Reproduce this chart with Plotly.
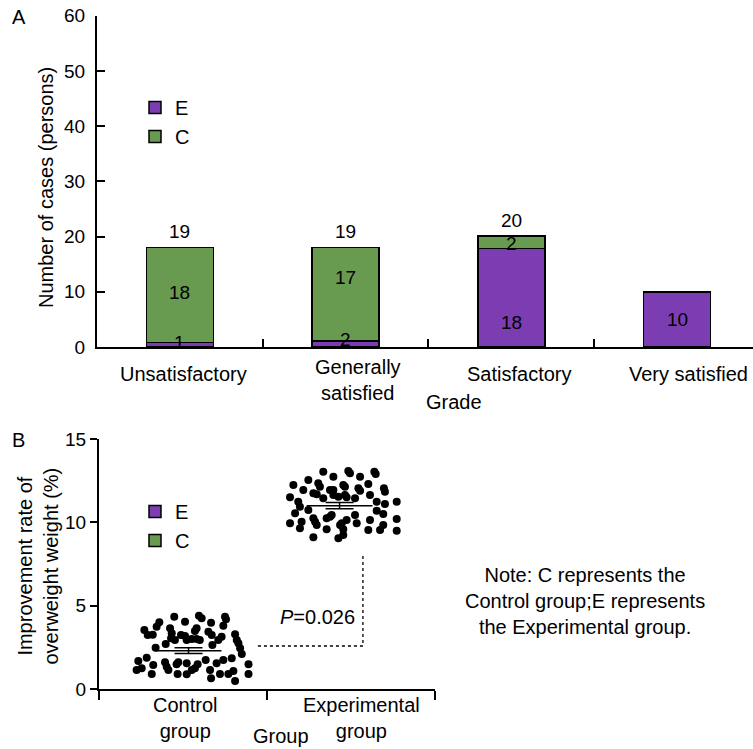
import plotly.graph_objects as go

# ---------------- Data: panel A ----------------
grades = ["Unsatisfactory", "Generally satisfied", "Satisfactory", "Very satisfied"]
grade_tick_labels = ["Unsatisfactory", "Generally<br>satisfied", "Satisfactory", "Very satisfied"]
e_bar = [0.8, 1.1, 17.8, 10.0]     # drawn height of E segment
c_bar = [17.2, 16.9, 2.3, 0.0]     # drawn height of C segment
e_labels = ["1", "2", "18", "10"]
c_labels = ["18", "17", "2", ""]
total_labels = ["19", "19", "20", ""]

# ---------------- Data: panel B ----------------
groups = ["Control<br>group", "Experimental<br>group"]
control_jitter = [-0.052, 0.012, 0.095, 0.111, 0.25, 0.256,
                  -0.141, -0.157, -0.077, 0.167, 0.081, 0.071,
                  -0.23, -0.21, -0.18, -0.067, -0.012, 0.012, 0.151, 0.171, 0.24, 0.23, 0.31,
                  -0.071, -0.048, 0.022, 0.052, 0.081, 0.10, 0.21, 0.32, 0.33,
                  -0.163, -0.103, 0.175, 0.34, 0.35,
                  -0.266, -0.216, -0.177, -0.107, -0.097, -0.028, -0.038, 0.022, 0.087, 0.135, 0.20, 0.24, 0.29,
                  -0.276, -0.246, -0.186, -0.087, -0.032, 0.022, 0.052, 0.071, 0.161, 0.22, 0.27, 0.30, 0.39, 0.39,
                  0.167, 0.31]
control_values = [4.34, 4.04, 4.40, 4.24, 4.34, 4.18,
                  4.00, 3.74, 3.64, 3.98, 3.64, 3.48,
                  3.54, 3.24, 3.26, 3.34, 3.24, 3.18, 3.44, 3.24, 3.80, 3.14, 3.28,
                  3.04, 2.94, 2.94, 3.00, 3.00, 2.94, 2.94, 2.94, 2.74,
                  2.48, 2.70, 2.64, 2.44, 2.10,
                  1.68, 1.88, 1.44, 1.60, 1.34, 1.60, 1.48, 1.54, 1.48, 1.74, 1.54, 1.74, 1.84,
                  1.14, 1.24, 0.90, 1.14, 0.90, 0.88, 1.14, 1.24, 1.14, 0.90, 0.90, 1.08, 1.48, 0.90,
                  0.64, 0.48]
exp_jitter = [-0.165, -0.105, -0.016, -0.006, 0.054, 0.139, 0.147,
              -0.343, -0.254, -0.195, -0.185, -0.125, -0.105, -0.046, -0.036, 0.044, 0.054, 0.103, 0.196, 0.202,
              -0.284, -0.224, -0.204, -0.165, -0.105, -0.075, -0.036, -0.026, 0.024, 0.113, -0.363,
              -0.314, -0.304, -0.254, -0.333, 0.153, 0.202, 0.272, 0.153, 0.192,
              -0.363, -0.294, -0.224, -0.214, -0.145, -0.115, -0.125, -0.055, -0.065, -0.026, 0.034, 0.024, 0.113, 0.192, 0.272,
              -0.304, -0.204, -0.145, -0.046, 0.103, 0.173, 0.272,
              -0.224, -0.075, -0.046]
exp_values = [13.04, 12.74, 13.08, 12.94, 12.74, 13.04, 12.90,
              12.24, 12.54, 12.34, 12.14, 11.94, 11.94, 12.24, 12.14, 12.04, 11.90, 12.30, 12.04, 11.84,
              11.94, 11.74, 11.68, 11.44, 11.64, 11.54, 11.64, 11.50, 11.44, 11.64, 11.50,
              11.24, 10.94, 10.74, 10.54, 11.24, 11.10, 11.24, 10.70, 10.50,
              9.94, 10.04, 10.24, 10.04, 10.24, 10.44, 10.34, 9.94, 9.84, 10.14, 9.94, 10.44, 10.14, 9.84, 10.20,
              9.64, 9.84, 9.58, 9.58, 9.54, 9.54, 9.50,
              9.10, 9.04, 9.24]
group_means = [2.30, 11.00]
group_sems = [0.17, 0.19]
p_text = "<i>P</i>=0.026"
note_text = "Note: C represents the<br>Control group;E represents<br>the Experimental group."

# ---------------- Styling ----------------
W, H = 753, 749
FONT = "Liberation Sans, Arial, sans-serif"
PURPLE = "#7c3db3"
GREEN = "#689a50"


def PX(x):
    return x / W


def PY(y):
    return 1 - y / H


fig = go.Figure()

# Panel A bars
fig.add_trace(go.Bar(x=grades, y=e_bar, name="E", marker=dict(color=PURPLE, line=dict(color="black", width=1.5)),
                     xaxis="x", yaxis="y", legend="legend"))
fig.add_trace(go.Bar(x=grades, y=c_bar, name="C", marker=dict(color=GREEN, line=dict(color="black", width=1.5)),
                     xaxis="x", yaxis="y", legend="legend"))

# Panel B legend entries
fig.add_trace(go.Bar(x=[None], y=[None], name="E", marker=dict(color=PURPLE, line=dict(color="black", width=1.5)),
                     xaxis="x2", yaxis="y2", legend="legend2"))
fig.add_trace(go.Bar(x=[None], y=[None], name="C", marker=dict(color=GREEN, line=dict(color="black", width=1.5)),
                     xaxis="x2", yaxis="y2", legend="legend2"))

# Panel B scatter points
fig.add_trace(go.Scatter(x=[0 + j for j in control_jitter], y=control_values, mode="markers",
                         marker=dict(size=8, color="black"), xaxis="x2", yaxis="y2", showlegend=False))
fig.add_trace(go.Scatter(x=[1 + j for j in exp_jitter], y=exp_values, mode="markers",
                         marker=dict(size=8, color="black"), xaxis="x2", yaxis="y2", showlegend=False))

# Mean lines and SEM bars
center_shift = [0.033, -0.068]
half_mean = 0.196
for i, (m, s) in enumerate(zip(group_means, group_sems)):
    c = i + center_shift[i]
    fig.add_trace(go.Scatter(x=[c - half_mean, c + half_mean], y=[m, m], mode="lines",
                             line=dict(color="black", width=1.5), xaxis="x2", yaxis="y2", showlegend=False))
    fig.add_trace(go.Scatter(x=[c], y=[m], mode="markers", marker=dict(size=1, color="rgba(0,0,0,0)"),
                             error_y=dict(type="data", array=[s], color="black", thickness=1.5, width=14),
                             xaxis="x2", yaxis="y2", showlegend=False))

# Significance bracket (dotted)
br_low, br_high = 2.58, 8.16
br_left, br_right = 0.446, 1.071
fig.add_trace(go.Scatter(x=[br_left, br_right, br_right], y=[br_low, br_low, br_high], mode="lines",
                         line=dict(color="black", width=1.3, dash="dot"), xaxis="x2", yaxis="y2", showlegend=False))

ann = []
f20 = dict(family=FONT, size=20, color="black")
f19 = dict(family=FONT, size=19, color="black")


def paper_text(text, xp, yp, **kw):
    d = dict(text=text, x=PX(xp), y=PY(yp), xref="paper", yref="paper", showarrow=False, font=f20,
             xanchor="center", yanchor="middle")
    d.update(kw)
    return d


ann.append(paper_text("A", 19, 17))
ann.append(paper_text("B", 18, 440))
ann.append(paper_text("Number of cases (persons)", 46, 188, textangle=-90))
ann.append(paper_text("Improvement rate of<br>overweight weight (%)", 37.5, 566, textangle=-90))

# Panel A category labels
cat_shift = [4, 12, 8, 11]
for i, lab in enumerate(grade_tick_labels):
    ypix = 380 if "<br>" in lab else 374
    ann.append(dict(text=lab, x=grades[i], xref="x", y=PY(ypix), yref="paper", xshift=cat_shift[i],
                    showarrow=False, font=f20, xanchor="center", yanchor="middle"))
ann.append(paper_text("Grade", 454, 402))

# Panel A value labels
e_label_y = [0.9, 1.3, 4.5, 4.9]
c_label_y = [9.8, 12.5, 18.7, 0]
for i in range(len(grades)):
    ann.append(dict(text=e_labels[i], x=grades[i], y=e_label_y[i], xref="x", yref="y", showarrow=False,
                    font=f19, xanchor="center", yanchor="middle"))
    if c_labels[i]:
        ann.append(dict(text=c_labels[i], x=grades[i], y=c_label_y[i], xref="x", yref="y", showarrow=False,
                        font=f19, xanchor="center", yanchor="middle"))
    if total_labels[i]:
        ann.append(dict(text=total_labels[i], x=grades[i], y=e_bar[i] + c_bar[i], xref="x", yref="y",
                        yshift=16, showarrow=False, font=f19, xanchor="center", yanchor="middle"))

# Panel B category labels
grp_shift = [2, 10]
for i, lab in enumerate(groups):
    ann.append(dict(text=lab, x=i, xref="x2", y=PY(718), yref="paper", xshift=grp_shift[i], showarrow=False,
                    font=f20, xanchor="center", yanchor="middle"))
ann.append(paper_text("Group", 281, 736))
ann.append(paper_text(p_text, 357, 617, xanchor="right"))
ann.append(paper_text(note_text, 585, 601, align="center"))

axis_common = dict(showline=True, linecolor="black", linewidth=2, showgrid=False, zeroline=False,
                   tickcolor="black", tickwidth=1.5, tickfont=f19, automargin=False)

fig.update_layout(
    width=W, height=H, margin=dict(l=0, r=0, t=0, b=0, autoexpand=False),
    paper_bgcolor="white", plot_bgcolor="white",
    barmode="stack", bargap=0.596,
    font=f20,
    xaxis=dict(domain=[97 / W, 1], anchor="y", type="category", categoryorder="array", categoryarray=grades,
               range=[-0.5, 3.458], tickson="boundaries", ticks="inside", ticklen=8, showticklabels=False,
               **axis_common),
    yaxis=dict(domain=[PY(347), PY(15.7)], anchor="x", range=[0, 60], dtick=10, ticks="inside", ticklen=8,
               ticklabelstandoff=6, **axis_common),
    xaxis2=dict(domain=[99 / W, 435 / W], anchor="y2", range=[-0.5, 1.5], tickvals=[-0.5, 0.5, 1.5],
                ticks="outside", ticklen=9, showticklabels=False, **axis_common),
    yaxis2=dict(domain=[PY(689), PY(439)], anchor="x2", range=[0, 15], dtick=5, ticks="outside", ticklen=7,
                **axis_common),
    legend=dict(x=PX(135), y=PY(88), xanchor="left", yanchor="top", traceorder="normal",
                bgcolor="rgba(0,0,0,0)", font=f20, tracegroupgap=0),
    legend2=dict(x=PX(135), y=PY(492), xanchor="left", yanchor="top", traceorder="normal",
                 bgcolor="rgba(0,0,0,0)", font=f20),
    annotations=ann,
)

fig.write_html("out.html", config={"displayModeBar": False})
